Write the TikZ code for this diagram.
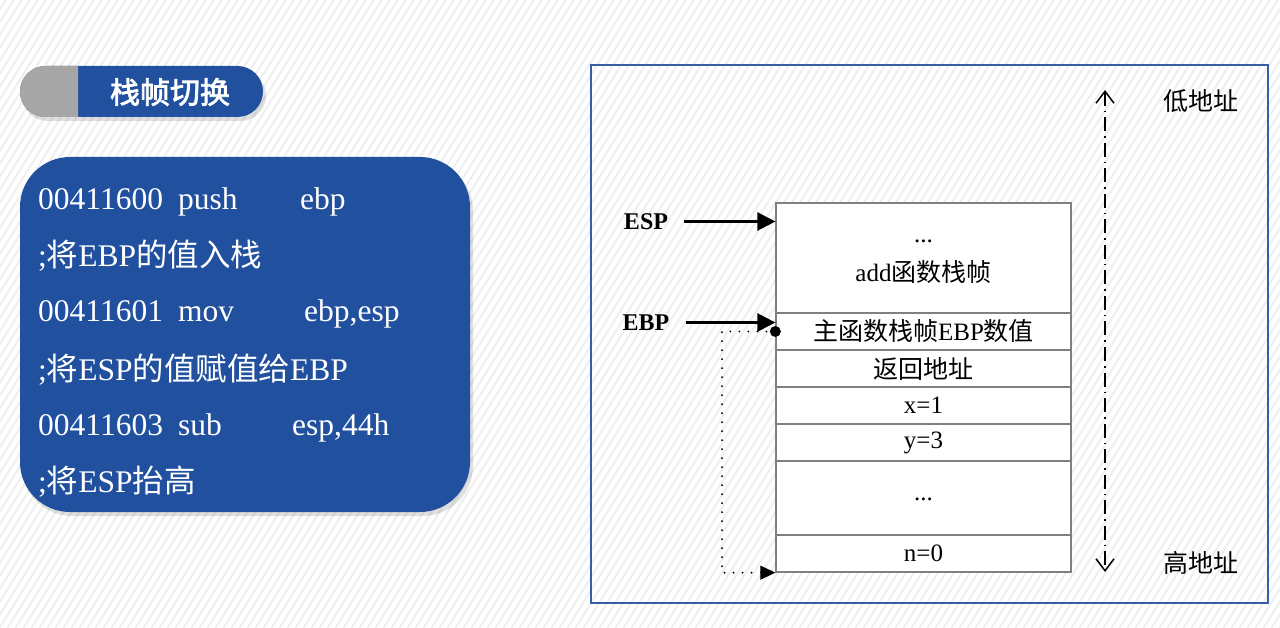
\documentclass[tikz,border=0pt]{standalone}
\usepackage{fontspec}
\setmainfont{Liberation Serif}
\newfontfamily\cjk{Noto Sans CJK SC}
\newfontfamily\cjkbold{Noto Sans CJK SC}[FakeBold=2.5]
\usetikzlibrary{arrows.meta}
\definecolor{panelblue}{HTML}{21509F}
\definecolor{pillgrey}{HTML}{A6A6A6}
\definecolor{borderblue}{HTML}{3A5DA8}
\definecolor{stripe}{HTML}{EFEFEF}
\definecolor{rowline}{HTML}{808080}
\tikzset{
  codetxt/.style={anchor=base west, inner sep=0pt, text=white, font=\fontsize{31.5}{36}\selectfont},
  row/.style={draw=rowline, line width=1.3pt, fill=white, minimum width=295pt, inner sep=0pt, font=\fontsize{25}{28}\selectfont, align=center},
  rowtxt/.style={inner sep=0pt, font=\fontsize{25}{28}\selectfont},
  reglabel/.style={inner sep=0pt, font=\fontsize{24}{28}\selectfont\bfseries},
  regarrow/.style={line width=2.6pt, -{Triangle[length=18pt,width=18pt]}},
  dotline/.style={line width=2.2pt, dash pattern=on 0pt off 9pt, line cap=round},
  addrlabel/.style={inner sep=0pt, font=\fontsize{25}{28}\selectfont\cjk},
  shadowfill/.style={fill=black, opacity=0.12},
}
\begin{document}
\begin{tikzpicture}[x=1pt,y=-1pt]
\useasboundingbox (0,0) rectangle (1280,628);
% background
\fill[white] (0,0) rectangle (1280,628);
\begin{scope}
\clip (0,0) rectangle (1280,628);
\foreach \i in {-55,...,165} \draw[stripe, line width=2pt] (\i*8,640) -- ++(410,-660);
\end{scope}
% shadows
\fill[shadowfill, rounded corners=25.5pt] (22,70) rectangle (266,121);
\fill[shadowfill, rounded corners=50pt] (22,161) rectangle (473,516);
% title pill
\fill[panelblue, rounded corners=25.5pt] (20,66) rectangle (263,117);
\begin{scope}
\clip (0,0) rectangle (78,628);
\fill[pillgrey, rounded corners=25.5pt] (20,66) rectangle (263,117);
\end{scope}
\node[text=white, inner sep=0pt, font=\fontsize{30}{34}\selectfont\cjkbold] (title) at (170,92) {栈帧切换};
% code box
\fill[panelblue, rounded corners=50pt] (20,157) rectangle (470,512);
\node[codetxt] (a1) at (38,210) {00411600};
\node[codetxt] (b1) at (178,210) {push};
\node[codetxt] (c1) at (300,210) {ebp};
\node[codetxt] (d1) at (38,267) {;{\cjk 将}EBP{\cjk 的值入栈}};
\node[codetxt] (a2) at (38,322) {00411601};
\node[codetxt] (b2) at (178,322) {mov};
\node[codetxt] (c2) at (304,322) {ebp,esp};
\node[codetxt] (d2) at (38,380) {;{\cjk 将}ESP{\cjk 的值赋值给}EBP};
\node[codetxt] (a3) at (38,435) {00411603};
\node[codetxt] (b3) at (178,435) {sub};
\node[codetxt] (c3) at (292,435) {esp,44h};
\node[codetxt] (d3) at (38,492) {;{\cjk 将}ESP{\cjk 抬高}};
% right panel
\draw[borderblue, line width=2pt] (591,65) rectangle (1268,603);
% stack
\node[row, minimum height=110pt] (r1) at (923.5,258) {};
\node[rowtxt] (r1a) at (923.5,241) {...};
\node[rowtxt] (r1b) at (923.5,272) {add{\cjk 函数栈帧}};
\node[row, minimum height=37pt] (r2) at (923.5,331.5) {{\cjk 主函数栈帧}EBP{\cjk 数值}};
\node[row, minimum height=37pt] (r3) at (923.5,368.5) {\cjk 返回地址};
\node[row, minimum height=37pt] (r4) at (923.5,405.5) {x=1};
\node[row, minimum height=37pt] (r5) at (923.5,442.5) {y=3};
\node[row, minimum height=74pt] (r6) at (923.5,498) {\raisebox{-5pt}{...}};
\node[row, minimum height=37pt] (r7) at (923.5,553.5) {n=0};
% registers
\node[reglabel] (esp) at (646,221.5) {ESP};
\node[reglabel] (ebp) at (646,322.5) {EBP};
\draw[regarrow] ([xshift=16pt]esp.east) -- (esp -| r1.west);
\draw[regarrow] ([xshift=16pt]ebp.east) -- (ebp -| r2.west);
\fill (r2.west) circle (5.5pt);
\coordinate (dl) at (722,331.5);
\draw[dotline] (r2.west) -- (dl) |- ([xshift=-16pt]r7.south west);
\draw[line width=1pt, -{Triangle[length=15pt,width=14pt]}] ([xshift=-15pt]r7.south west) -- (r7.south west);
% address arrow
\coordinate (atop) at (1105,90);
\coordinate (abot) at (1105,572);
\draw[line width=1.5pt, dash pattern=on 14pt off 5pt on 1.5pt off 5pt, {Straight Barb[length=12pt,width=18pt]}-{Straight Barb[length=12pt,width=18pt]}] (atop) -- (abot);
\node[addrlabel] (low) at (1201,101) {低地址};
\node[addrlabel] (high) at (1201,563) {高地址};
\end{tikzpicture}
\end{document}
